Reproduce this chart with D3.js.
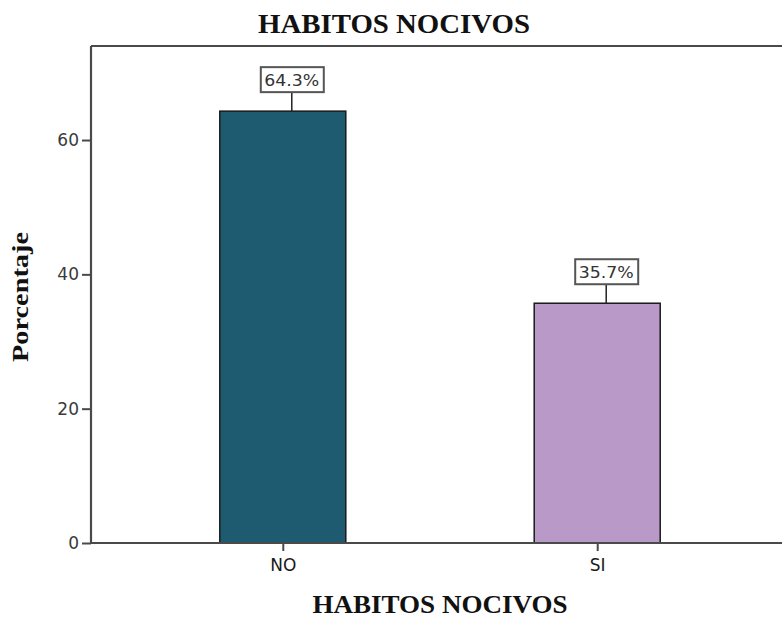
<!DOCTYPE html>
<html>
<head>
<meta charset="utf-8">
<script src="https://cdn.jsdelivr.net/npm/d3@7"></script>
<style>
  html, body { margin: 0; padding: 0; background: #fff; }
  svg { display: block; }
</style>
</head>
<body>
<svg id="chart" width="782" height="617"></svg>
<script>
// Data
const categories = ["NO", "SI"];
const percentages = [64.3, 35.7];
const barColors = ["#1e5a70", "#b899c8"];
const yTicks = [0, 20, 40, 60];
const chartTitle = "HABITOS NOCIVOS";
const xTitle = "HABITOS NOCIVOS";
const yTitle = "Porcentaje";

const svg = d3.select("#chart");
const plotLeft = 91, plotRight = 789, plotTop = 46, plotBottom = 543;

const x = d3.scalePoint().domain(categories).range([plotLeft, plotRight]).padding(0.61);
const y = d3.scaleLinear().domain([0, 74]).range([plotBottom, plotTop]);
const barW = 126;
const axisColor = "#4a4a4a";

// Frame: top line
svg.append("line").attr("x1", plotLeft).attr("x2", 782).attr("y1", plotTop).attr("y2", plotTop)
  .attr("stroke", axisColor).attr("stroke-width", 2);

// Bars
svg.append("g").selectAll("rect").data(categories).join("rect")
  .attr("x", d => x(d) - barW / 2)
  .attr("y", (d, i) => y(percentages[i]))
  .attr("width", barW)
  .attr("height", (d, i) => y(0) - y(percentages[i]))
  .attr("fill", (d, i) => barColors[i])
  .attr("stroke", "#1a1a1a")
  .attr("stroke-width", 1.5);

// Y axis
const yAxis = svg.append("g").attr("transform", `translate(${plotLeft},0)`)
  .call(d3.axisLeft(y).tickValues(yTicks).tickSize(9).tickPadding(3).tickFormat(d3.format("d")));
yAxis.select(".domain").attr("stroke", axisColor).attr("stroke-width", 2.2)
  .attr("d", `M0,${plotTop}V${plotBottom}`);
yAxis.selectAll(".tick line").attr("stroke", axisColor).attr("stroke-width", 2);
yAxis.selectAll(".tick text").attr("fill", "#3a3a3a")
  .style("font-family", "'DejaVu Sans', sans-serif").style("font-size", "17px");

// X axis
const xAxis = svg.append("g").attr("transform", `translate(0,${plotBottom})`)
  .call(d3.axisBottom(x).tickSize(8).tickPadding(8));
xAxis.select(".domain").attr("stroke", axisColor).attr("stroke-width", 2)
  .attr("d", `M${plotLeft},0H782`);
xAxis.selectAll(".tick line").attr("stroke", axisColor).attr("stroke-width", 2);
xAxis.selectAll(".tick text").attr("fill", "#1a1a1a")
  .style("font-family", "'DejaVu Sans', sans-serif").style("font-size", "17px");

// Value labels in boxes with connector
const labelOffset = 9;
const lbl = svg.append("g").selectAll("g").data(categories).join("g")
  .attr("transform", (d, i) => `translate(${x(d) + labelOffset},${y(percentages[i])})`);
lbl.append("line").attr("x1", 0).attr("x2", 0).attr("y1", 0).attr("y2", -19)
  .attr("stroke", "#222").attr("stroke-width", 1.5);
lbl.append("rect").attr("x", -31).attr("y", -44).attr("width", 63).attr("height", 25)
  .attr("fill", "#fff").attr("stroke", "#555").attr("stroke-width", 2);
lbl.append("text").attr("x", 0).attr("y", -25)
  .attr("text-anchor", "middle")
  .attr("textLength", 55).attr("lengthAdjust", "spacingAndGlyphs")
  .style("font-family", "'DejaVu Sans', sans-serif").style("font-size", "16px")
  .attr("fill", "#333")
  .text((d, i) => d3.format(".1f")(percentages[i]) + "%");

// Titles
svg.append("text").attr("x", 394).attr("y", 33).attr("text-anchor", "middle")
  .attr("textLength", 272).attr("lengthAdjust", "spacingAndGlyphs")
  .style("font-family", "'Liberation Serif', 'Times New Roman', serif")
  .style("font-weight", "bold").style("font-size", "28px").attr("fill", "#111")
  .text(chartTitle);

svg.append("text").attr("x", 440).attr("y", 613).attr("text-anchor", "middle")
  .attr("textLength", 255).attr("lengthAdjust", "spacingAndGlyphs")
  .style("font-family", "'Liberation Serif', 'Times New Roman', serif")
  .style("font-weight", "bold").style("font-size", "25px").attr("fill", "#111")
  .text(xTitle);

svg.append("text").attr("transform", "translate(28,297) rotate(-90)").attr("text-anchor", "middle")
  .attr("textLength", 130).attr("lengthAdjust", "spacingAndGlyphs")
  .style("font-family", "'Liberation Serif', 'Times New Roman', serif")
  .style("font-weight", "bold").style("font-size", "24px").attr("fill", "#111")
  .text(yTitle);
</script>
</body>
</html>
